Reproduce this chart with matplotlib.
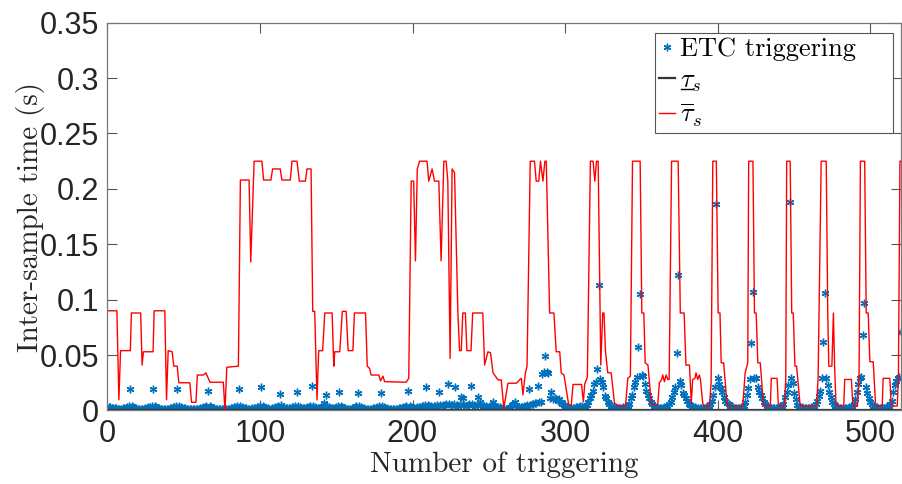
import numpy as np
import matplotlib
matplotlib.use('agg')
import matplotlib.pyplot as plt
from matplotlib.lines import Line2D
from matplotlib.ticker import FormatStrFormatter

# ETC inter-sample time at each triggering, in ms (triggering 1..520)
etc_ms = [
    3, 3, 2, 2, 2, 2, 1, 1, 1, 2, 2, 2, 3, 4, 19,
    4, 3, 2, 2, 1, 1, 1, 1, 1, 2, 2, 3, 3, 4, 19,
    4, 3, 2, 2, 1, 1, 1, 1, 1, 1, 2, 2, 3, 3, 4, 19,
    4, 3, 2, 2, 2, 1, 1, 1, 1, 1, 1, 1, 1, 1, 2, 2, 3, 3, 4, 18,
    4, 3, 2, 2, 1, 1, 1, 1, 1, 1, 1, 1, 1, 1, 2, 2, 3, 3, 4, 19,
    4, 3, 2, 2, 2, 1, 1, 1, 2, 2, 2, 3, 3, 4, 21,
    4, 3, 2, 2, 1, 1, 2, 2, 3, 3, 4, 15,
    5, 3, 2, 2, 2, 2, 2, 3, 3, 4, 17,
    4, 3, 2, 2, 2, 2, 3, 3, 4, 22,
    4, 3, 2, 2, 2, 3, 4, 7, 14,
    4, 3, 2, 2, 2, 2, 3, 4, 17,
    4, 3, 2, 2, 1, 1, 1, 2, 2, 3, 4, 16,
    4, 3, 2, 2, 1, 1, 1, 1, 1, 2, 2, 2, 3, 4, 16,
    4, 3, 2, 2, 1, 1, 1, 1, 1, 1, 1, 2, 2, 2, 3, 3, 4, 18,
    4, 3, 3, 2, 2, 3, 3, 3, 4, 4, 5, 21,
    5, 4, 4, 3, 4, 4, 5, 17,
    5, 4, 5, 5, 6, 24,
    6, 5, 5, 6, 21,
    5, 4, 6, 12, 11,
    5, 4, 5, 6, 22,
    6, 5, 4, 6, 12, 8,
    5, 4, 4, 4, 3, 3, 4, 5, 8,
    4, 3, 3, 3, 2, 1, 1, 1, 1, 2, 3, 5, 6, 8, 5, 3, 3, 3, 3, 4,
    4, 5, 19, 5, 6, 6, 7, 7, 22, 8, 8, 33, 35, 49, 35, 34, 11, 17, 10, 11,
    10, 9, 10, 8, 6, 5, 4, 3, 3, 2, 2, 2, 2, 3, 3, 3, 4, 4, 3, 4,
    5, 8, 11, 14, 18, 24, 26, 37, 113, 28, 26, 21, 13, 11, 8, 6, 4, 3, 3, 2,
    2, 2, 2, 2, 3, 3, 3, 4, 6,
    11, 14, 21, 26, 30, 57, 105, 32, 31, 24, 18, 14, 11, 8, 6, 4, 3,
    3, 2, 2, 2, 2, 3, 3, 4, 6, 8, 12, 17, 21, 52, 122, 27, 23, 16, 14, 11,
    9, 6, 5, 4, 3, 3, 2, 2, 2, 2, 2, 2, 3, 3, 4, 6, 9, 14, 21, 186,
    29, 24, 20, 17, 12, 9, 7, 6, 4, 3, 3, 2, 2, 2, 2, 3, 3, 4, 8, 14,
    20, 28, 61, 107, 29, 29, 21, 17, 14, 11, 8, 6, 4, 3, 3, 2, 2, 2, 2, 2,
    3, 3, 4, 6, 12, 17, 23, 188, 29, 25, 16, 10, 5, 4, 3, 3, 2, 2, 2,
    2, 2, 3, 3, 4, 6, 9, 13, 18, 29, 62, 106, 29, 23, 17, 12, 8, 6, 4, 3,
    3, 2, 2, 2, 2, 2, 2, 3, 3, 4, 6, 10, 17, 24, 29, 30, 68, 97, 21, 16,
    11, 8, 6, 4, 3, 3, 2, 2, 2, 2, 2, 3, 3, 4, 6, 9, 17, 23, 27, 29, 30, 71,
]

# upper bound (red), vertices of the polyline
upper_x = [
    0.5, 6.3, 7.6, 8.7, 15.1, 15.8, 21.9, 22.8, 23.7, 30.0, 30.7, 37.7, 38.8, 39.9,
    42.5, 43.6, 45.8, 46.9, 54.1, 55.2, 58.1, 59.0, 62.9, 64.6, 67.3, 76.0, 77.1,
    78.3, 85.9, 87.2, 92.9, 94.0, 96.2, 101.3, 102.4, 107.2, 108.3, 113.3, 114.4,
    119.9, 121.0, 124.3, 125.8, 129.8, 130.8, 133.5, 134.6, 135.9, 137.4, 138.5,
    141.1, 142.5, 147.3, 148.4, 149.0, 152.3, 154.0, 156.5, 157.8, 160.9, 161.9,
    169.2, 170.3, 171.8, 172.9, 177.9, 179.0, 180.6, 181.7, 195.8, 197.5, 199.1,
    200.7, 201.9, 203.1, 204.6, 209.5, 210.6, 212.8, 214.4, 217.2, 218.7, 220.5,
    222.0, 223.1, 224.6, 225.9, 227.5, 229.7, 230.8, 231.9, 232.9, 234.6, 235.6,
    238.3, 239.4, 246.0, 247.2, 249.4, 251.1, 252.7, 256.0, 258.1, 259.8, 262.5,
    268.0, 270.1, 271.3, 272.3, 273.9, 275.0, 277.1, 279.9, 281.0, 282.7, 283.8,
    285.4, 286.7, 287.6, 289.8, 292.6, 294.1, 296.4, 297.4, 299.2, 302.3, 304.0,
    305.1, 310.7, 311.9, 312.8, 314.5, 316.5, 318.3, 319.4, 320.5, 321.6, 323.3,
    324.6, 325.4, 326.4, 327.9, 330.1, 332.3, 335.5, 339.5, 341.0, 342.7, 344.1,
    349.1, 350.2, 351.5, 352.4, 354.2, 356.3, 357.1, 360.6, 361.7, 363.2, 363.9,
    365.0, 366.1, 367.2, 368.1, 369.7, 374.0, 375.4, 377.9, 379.1, 381.4, 382.6,
    383.5, 385.0, 385.7, 386.8, 387.9, 388.6, 390.1, 390.9, 394.5, 395.6, 396.7,
    399.0, 400.2, 401.4, 402.2, 403.8, 406.0, 406.9, 416.3, 417.9, 419.6, 420.2,
    423.0, 424.0, 425.1, 426.2, 427.8, 429.8, 430.8, 434.4, 435.0, 438.8, 439.6,
    440.7, 443.6, 444.5, 445.1, 447.4, 448.4, 449.4, 450.5, 451.6, 453.8, 454.7,
    464.7, 465.7, 467.7, 471.0, 472.0, 472.7, 474.7, 475.7, 476.5, 477.4, 478.2,
    482.5, 483.1, 487.5, 488.4, 489.2, 491.4, 492.5, 493.4, 496.2, 497.2, 498.5,
    499.6, 501.8, 503.3, 504.2, 507.7, 508.3, 512.7, 513.5, 514.5, 517.5, 518.3,
    519.3, 520.0,
]
upper_y = [
    0.090, 0.090, 0.0096, 0.054, 0.054, 0.088, 0.088, 0.041, 0.053, 0.053, 0.090, 0.090, 0.0096, 0.054,
    0.053, 0.040, 0.040, 0.025, 0.025, 0.0074, 0.0074, 0.032, 0.032, 0.034, 0.0255, 0.0255, 0.0,
    0.039, 0.040, 0.208, 0.208, 0.134, 0.225, 0.225, 0.208, 0.208, 0.218, 0.218, 0.208,
    0.208, 0.225, 0.225, 0.207, 0.207, 0.218, 0.218, 0.0895, 0.0895, 0.0095, 0.054,
    0.054, 0.088, 0.088, 0.040, 0.053, 0.053, 0.0895, 0.0895, 0.054, 0.054, 0.088,
    0.088, 0.040, 0.038, 0.032, 0.032, 0.0267, 0.031, 0.026, 0.0255, 0.029, 0.207,
    0.207, 0.135, 0.218, 0.225, 0.225, 0.207, 0.218, 0.207, 0.207, 0.135, 0.225,
    0.225, 0.207, 0.047, 0.218, 0.2146, 0.088, 0.054, 0.054, 0.088, 0.088, 0.054,
    0.054, 0.088, 0.088, 0.041, 0.053, 0.052, 0.034, 0.0276, 0.0276, 0.002, 0.0246,
    0.0246, 0.0276, 0.029, 0.014, 0.0337, 0.040, 0.225, 0.225, 0.207, 0.207, 0.225,
    0.207, 0.225, 0.225, 0.088, 0.088, 0.053, 0.053, 0.034, 0.032, 0.005, 0.005,
    0.0235, 0.0235, 0.008, 0.024, 0.030, 0.225, 0.225, 0.207, 0.225, 0.225, 0.041,
    0.088, 0.088, 0.053, 0.034, 0.034, 0.0065, 0.004, 0.004, 0.029, 0.031, 0.225,
    0.225, 0.088, 0.088, 0.043, 0.041, 0.008, 0.005, 0.005, 0.025, 0.028, 0.032,
    0.026, 0.032, 0.028, 0.028, 0.225, 0.225, 0.088, 0.088, 0.041, 0.041, 0.0065,
    0.028, 0.029, 0.034, 0.028, 0.032, 0.028, 0.0065, 0.004, 0.004, 0.025, 0.225,
    0.225, 0.088, 0.088, 0.043, 0.043, 0.006, 0.004, 0.004, 0.034, 0.043, 0.225,
    0.225, 0.088, 0.088, 0.043, 0.043, 0.006, 0.004, 0.004, 0.029, 0.029, 0.006,
    0.004, 0.004, 0.028, 0.225, 0.225, 0.088, 0.088, 0.040, 0.040, 0.006, 0.004,
    0.004, 0.030, 0.225, 0.225, 0.088, 0.040, 0.040, 0.088, 0.040, 0.006, 0.004,
    0.004, 0.028, 0.028, 0.006, 0.004, 0.004, 0.029, 0.225, 0.225, 0.088, 0.088,
    0.044, 0.044, 0.006, 0.004, 0.004, 0.029, 0.029, 0.006, 0.004, 0.004, 0.030,
    0.225, 0.225,
]
lower_bound = 0.0008  # lower bound (black), flat along the bottom

xticks = [0, 100, 200, 300, 400, 500]
yticks = [0, 0.05, 0.1, 0.15, 0.2, 0.25, 0.3, 0.35]

plt.rcParams['font.family'] = 'Liberation Sans'
plt.rcParams['mathtext.fontset'] = 'cm'

fig = plt.figure(figsize=(9.03, 4.84), dpi=100)
ax = fig.add_axes([0.1188, 0.1519, 0.879, 0.8012])

n = np.arange(1, len(etc_ms) + 1)
etc = np.array(etc_ms) / 1000.0
ax.plot(n, etc, ls='none', marker=(6, 2, 0), ms=5.5, mec='#0072BD', mfc='none',
        mew=1.0, label='ETC triggering')
ax.plot(n, np.full(len(n), lower_bound), color='#333333', lw=1.6, label=r'$\tau_s$')
ax.plot(upper_x, upper_y, color='#ff0000', lw=1.0, label=r'$\overline{\tau}_s$')

ax.set_xlim(0, 520)
ax.set_ylim(0, 0.35)
ax.set_xticks(xticks)
ax.set_yticks(yticks)
ax.xaxis.set_major_formatter(FormatStrFormatter('%g'))
ax.yaxis.set_major_formatter(FormatStrFormatter('%g'))
ax.tick_params(direction='in', length=7, width=0.8, color='#555555',
               top=True, right=True, labelsize=22, labelcolor='#262626', pad=6)
for s in ax.spines.values():
    s.set_color('#777777')
    s.set_linewidth(0.9)

ax.set_xlabel('Number of triggering', family='cmr10', fontsize=21, color='#262626', labelpad=2)
ax.set_ylabel('Inter-sample time (s)', family='cmr10', fontsize=21, color='#262626', labelpad=-4)

leg = ax.legend(loc='upper left', bbox_to_anchor=(0.69, 0.723, 0.3, 0.25), mode='expand',
                prop={'family': 'cmr10', 'size': 19}, handlelength=0.6, handletextpad=0.2,
                borderpad=0.15, labelspacing=0.3, borderaxespad=0, fancybox=False,
                framealpha=1, edgecolor='#555555')
leg.get_frame().set_linewidth(0.8)

# mathtext has no \underline: draw the bar under the tau of the lower bound label
fig.canvas.draw()
bb = leg.get_texts()[1].get_window_extent(fig.canvas.get_renderer())
W, H = fig.bbox.width, fig.bbox.height
ux0 = bb.x0 + 0.03 * bb.width
ux1 = bb.x0 + 0.55 * bb.width
uy = bb.y0 + 0.2 * bb.height
fig.add_artist(Line2D([ux0 / W, ux1 / W], [uy / H, uy / H], transform=fig.transFigure,
                      color='black', lw=1.0))

fig.savefig('out.png', dpi=100)
